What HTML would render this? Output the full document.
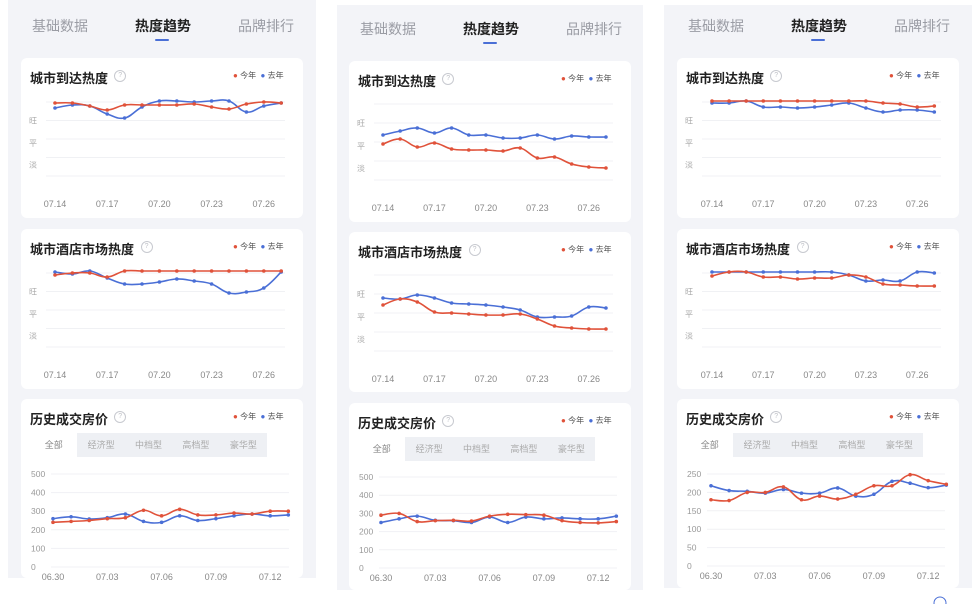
<!DOCTYPE html>
<html><head><meta charset="utf-8">
<style>
html,body{margin:0;padding:0;background:#fff;width:980px;height:604px;overflow:hidden;position:relative;font-family:"Liberation Sans","Noto Sans CJK SC",sans-serif}
.a{position:absolute}
.bg{background:#f3f4f8}
.card{background:#fff;border-radius:6px}
.tab{font-size:14px;color:#9a9ca4;white-space:nowrap}
.tab.on{color:#222;font-weight:bold}
.ttl{font-size:13px;font-weight:bold;color:#222;white-space:nowrap}
.q{width:10px;height:10px;border:1px solid #c8cad0;border-radius:50%;font-size:7px;color:#c0c2c8;text-align:center;line-height:10px}
.lg{font-size:8px;color:#555;white-space:nowrap}
.seg{background:#eef0f4;font-size:9px;color:#aaa;display:flex}
.seg span{flex:1;text-align:center;line-height:24px}
.seg span.on{background:#fff;color:#888}
svg{position:absolute;left:0;top:0}
</style></head><body>
<svg id="s" width="980" height="604"></svg>
<script>
var R='#e0523a',B='#4a6fd6';
var body=document.body,S=document.getElementById('s');
function div(cls,x,y,w,h,txt,st){var d=document.createElement('div');d.className='a '+cls;d.style.left=x+'px';d.style.top=y+'px';if(w)d.style.width=w+'px';if(h)d.style.height=h+'px';if(txt!=null)d.innerHTML=txt;if(st)d.style.cssText+=st;body.insertBefore(d,S);return d;}
var svg='';
function path(xs,ys,c){var d='M'+xs[0]+','+ys[0];for(var i=0;i<xs.length-1;i++){var x0=xs[Math.max(i-1,0)],y0=ys[Math.max(i-1,0)],x1=xs[i],y1=ys[i],x2=xs[i+1],y2=ys[i+1],x3=xs[Math.min(i+2,xs.length-1)],y3=ys[Math.min(i+2,xs.length-1)];var t=0.2;d+=' C'+(x1+(x2-x0)*t)+','+(y1+(y2-y0)*t)+' '+(x2-(x3-x1)*t)+','+(y2-(y3-y1)*t)+' '+x2+','+y2;}
svg+='<path d="'+d+'" fill="none" stroke="'+c+'" stroke-width="1.6"/>';for(var i=0;i<xs.length;i++)svg+='<circle cx="'+xs[i]+'" cy="'+ys[i]+'" r="1.8" fill="'+c+'"/>';}
function txt(x,y,t,anchor,size,col){svg+='<text x="'+x+'" y="'+y+'" font-size="'+(size||9)+'" fill="'+(col||'#999')+'" text-anchor="'+(anchor||'middle')+'" font-family="Liberation Sans, Noto Sans CJK SC, sans-serif">'+t+'</text>';}
function hl(x1,x2,y){svg+='<line x1="'+x1+'" x2="'+x2+'" y1="'+y+'" y2="'+y+'" stroke="#f0f1f4" stroke-width="1"/>';}
function head(cx,cy,cw,title){div('ttl',cx+9,cy+10,null,null,title);var tw=title.length*13.2;div('q',cx+11+tw+3,cy+12,null,null,'?');div('lg',cx+cw-70,cy+12,null,null,'<span style="color:'+R+'">●</span> 今年 &nbsp;<span style="color:'+B+'">●</span> 去年');}
function heat(cx,cy,cw,title,x0,step,red,blue,gy){head(cx,cy,cw,title);
 for(var k=0;k<5;k++)hl(cx+25,cx+cw-18,gy[0]+k*(gy[1]-gy[0])/4);
 txt(cx+12,gy[0]+(gy[1]-gy[0])*0.25+3,'旺','middle',8,'#aaa');txt(cx+12,gy[0]+(gy[1]-gy[0])*0.5+3+4,'平','middle',8,'#aaa');txt(cx+12,gy[0]+(gy[1]-gy[0])*0.75+3+7,'淡','middle',8,'#aaa');
 var labs=['07.14','07.17','07.20','07.23','07.26'];for(var i=0;i<5;i++)txt(x0+i*3*step,gy[1]+31,labs[i],'middle',9,'#888');
 var xs=[];for(var i=0;i<14;i++)xs.push(x0+i*step);path(xs,blue,B);path(xs,red,R);}
function price(cx,cy,cw,x0,step,yTop,yZero,max,ticks,red,blue){head(cx,cy,cw,'历史成交房价');
 var sg=div('seg',cx+9,cy+34,237,24,'<span class="on">全部</span><span>经济型</span><span>中档型</span><span>高档型</span><span>豪华型</span>');
 for(var k=0;k<=5;k++){var y=yZero-(yZero-yTop)*k/5;hl(cx+30,cx+cw-14,y);txt(cx+10,y+3,ticks[k],'start',8.5,'#999');}
 var labs=['06.30','07.03','07.06','07.09','07.12'];for(var i=0;i<5;i++)txt(x0+i*3*step,yZero+13,labs[i],'middle',9,'#888');
 var xs=[];for(var i=0;i<14;i++)xs.push(x0+i*step);
 function m(a){return a.map(function(v){return yZero-(yZero-yTop)*v/max;});}
 path(xs,m(blue),B);path(xs,m(red),R);}
function panel(px,pw,pt,pb,cx,cw,cys,chs,shift){
 div('bg',px,pt,pw,pb-pt);
 for(var i=0;i<3;i++)div('card',cx,cys[i],cw,chs[i]);
 div('tab',cx+11,16+shift,null,null,'基础数据');div('tab on',cx+114,16+shift,null,null,'热度趋势');div('tab',cx+217,16+shift,null,null,'品牌排行');
 div('',cx+134,39+shift,14,2,'','background:#4a6fd6;border-radius:1px');}
// Panel 1
panel(8,308,0,578,21,282,[58,229,399],[160,160,179],0);
heat(21,58,282,'城市到达热度',55,17.4,[103,103,106,110,105,105,105,105,104,107,109,104,102,103],[108,105,106,114,118,107,101,101,102,101,101,112,106,103],[102,176]);
heat(21,229,282,'城市酒店市场热度',55,17.4,[275,273,273,277,271,271,271,271,271,271,271,271,271,271],[272,274,271,278,284,284,282,279,281,284,293,292,288,272],[273,347]);
price(21,399,282,53,18.1,474,567,500,[0,100,200,300,400,500],[240,245,250,260,265,305,275,310,280,280,290,285,300,300],[260,270,258,265,285,245,240,275,250,260,275,285,275,280]);
// Panel 2
panel(337,306,5,590,349,282,[61,232,403],[161,160,187],3);
heat(349,61,282,'城市到达热度',383,17.15,[144,139,147,143,149,150,150,151,148,158,157,164,167,168],[135,131,128,133,128,135,135,138,138,135,139,136,137,137],[104,180]);
heat(349,232,282,'城市酒店市场热度',383,17.15,[305,299,302,312,313,314,315,315,314,319,326,328,329,329],[298,299,295,298,303,304,305,307,310,317,317,316,307,308],[275,351]);
price(349,403,282,381,18.1,477,568,500,[0,100,200,300,400,500],[290,300,255,260,262,258,285,295,293,290,260,250,248,255],[250,270,285,262,260,250,280,250,280,270,275,270,270,285]);
// Panel 3
panel(664,308,5,588,677,282,[58,229,399],[160,160,189],0);
heat(677,58,282,'城市到达热度',712,17.1,[101,101,101,101,101,101,101,101,101,101,103,104,107,106],[103,103,101,107,107,108,107,105,103,108,112,110,110,112],[102,176]);
heat(677,229,282,'城市酒店市场热度',712,17.1,[276,272,272,277,277,279,278,278,275,277,284,285,286,286],[272,272,272,272,272,272,272,272,275,281,280,281,272,273],[273,347]);
price(677,399,282,711,18.1,474,566,250,[0,50,100,150,200,250],[180,178,200,200,215,180,190,182,195,218,218,248,232,222],[218,205,203,198,208,198,198,212,190,195,230,225,213,220]);
svg+='<circle cx="940" cy="603" r="6" fill="none" stroke="#4a6fd6" stroke-width="1"/>';
S.innerHTML=svg;
</script>
</body></html>
